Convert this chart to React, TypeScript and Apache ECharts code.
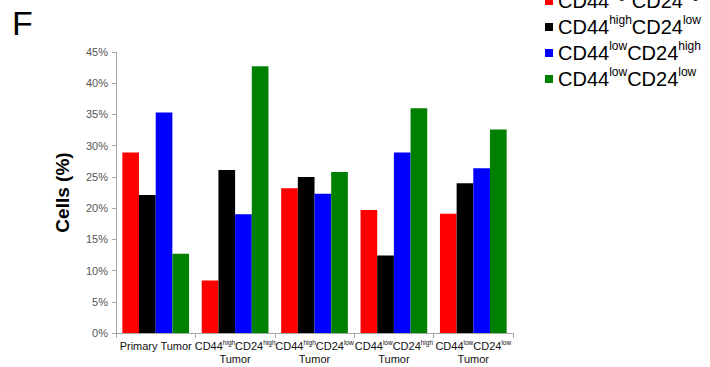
import React, { useEffect, useRef } from "react";
import * as echarts from "echarts";

const categories = [
  "Primary Tumor",
  "CD44{s|high}CD24{s|high}\nTumor",
  "CD44{s|high}CD24{s|low}\nTumor",
  "CD44{s|low}CD24{s|high}\nTumor",
  "CD44{s|low}CD24{s|low}\nTumor",
];
const seriesNames = ["CD44highCD24high", "CD44highCD24low", "CD44lowCD24high", "CD44lowCD24low"];
const legendLabels = [
  "CD44{s|high}CD24{s|high}",
  "CD44{s|high}CD24{s|low}",
  "CD44{s|low}CD24{s|high}",
  "CD44{s|low}CD24{s|low}",
];
const colors = ["#ff0000", "#000000", "#0000ff", "#008000"];
const redValues = [28.9, 8.4, 23.2, 19.7, 19.1];
const blackValues = [22.1, 26.1, 25.0, 12.4, 24.0];
const blueValues = [35.3, 19.0, 22.3, 28.9, 26.4];
const greenValues = [12.7, 42.7, 25.8, 36.0, 32.6];
const allValues = [redValues, blackValues, blueValues, greenValues];

const FONT = "Liberation Sans, Arial, sans-serif";

export default function App() {
  const ref = useRef<HTMLDivElement>(null);
  useEffect(() => {
    if (!ref.current) return;
    const chart = echarts.init(ref.current, null, { renderer: "svg" });
    chart.setOption({
      animation: false,
      backgroundColor: "#ffffff",
      textStyle: { fontFamily: FONT },
      graphic: [
        {
          type: "text",
          left: 12,
          top: 6,
          style: { text: "F", font: `34px ${FONT}`, fill: "#000" },
        },
      ],
      legend: {
        orient: "vertical",
        left: 545,
        top: -12,
        padding: 0,
        itemGap: 0,
        itemWidth: 8,
        itemHeight: 8,
        icon: "rect",
        data: seriesNames,
        formatter: (name: string) => legendLabels[seriesNames.indexOf(name)],
        textStyle: {
          fontFamily: FONT,
          fontSize: 20,
          color: "#000",
          lineHeight: 26,
          rich: {
            s: { fontSize: 12, fontFamily: FONT, color: "#000", verticalAlign: "top", lineHeight: 26, padding: [0, 0, 6, 0] },
          },
        },
      },
      grid: { left: 116, right: 197, top: 52, bottom: 34, containLabel: false, outerBoundsMode: "none" },
      xAxis: {
        type: "category",
        data: categories,
        axisLine: { lineStyle: { color: "#a6a6a6", width: 1 } },
        axisTick: { show: true, length: 5, lineStyle: { color: "#a6a6a6" } },
        axisLabel: {
          interval: 0,
          margin: 6,
          fontFamily: FONT,
          fontSize: 11,
          color: "#111",
          lineHeight: 13,
          rich: {
            s: { fontSize: 6.5, fontFamily: FONT, color: "#111", verticalAlign: "top", lineHeight: 13, padding: [0, 0, 3, 0] },
          },
        },
      },
      yAxis: {
        type: "value",
        min: 0,
        max: 45,
        interval: 5,
        name: "Cells (%)",
        nameLocation: "middle",
        nameGap: 44,
        nameTextStyle: { fontFamily: FONT, fontSize: 19, color: "#000", fontWeight: "bold" },
        axisLine: { show: true, lineStyle: { color: "#a6a6a6", width: 1 } },
        axisTick: { show: true, length: 4, lineStyle: { color: "#a6a6a6" } },
        splitLine: { show: false },
        axisLabel: {
          formatter: "{value}%",
          fontFamily: FONT,
          fontSize: 11,
          color: "#555",
          margin: 8,
        },
      },
      series: seriesNames.map((name, i) => ({
        name,
        type: "bar",
        data: allValues[i],
        itemStyle: { color: colors[i] },
        barGap: "0%",
        barCategoryGap: "16%",
      })),
    });
    return () => chart.dispose();
  }, []);
  return <div ref={ref} style={{ width: 710, height: 367, position: "absolute", left: 0, top: 0 }} />;
}
